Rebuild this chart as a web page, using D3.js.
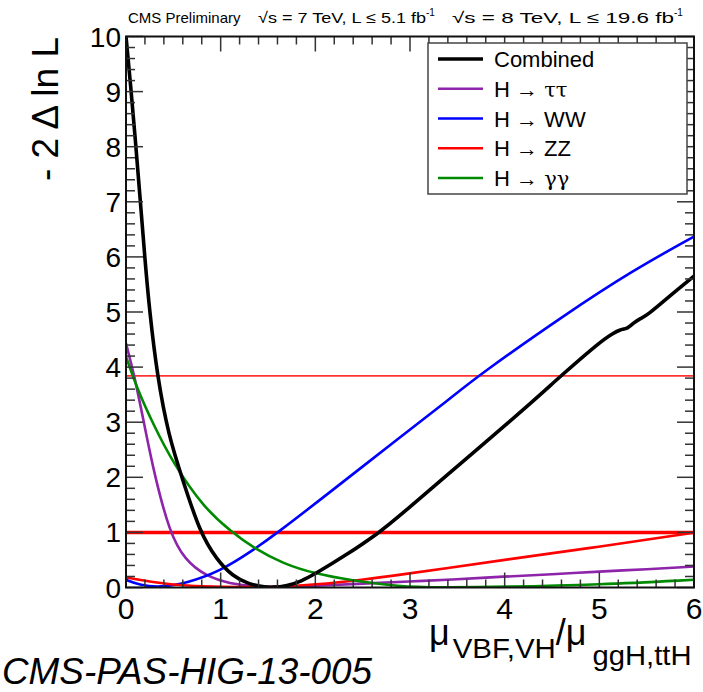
<!DOCTYPE html>
<html>
<head>
<meta charset="utf-8">
<style>
  body { margin: 0; background: #fff; }
  text { font-family: "Liberation Sans", Arial, sans-serif; }
</style>
</head>
<body>
<script src="https://cdn.jsdelivr.net/npm/d3@7/dist/d3.min.js"></script>
<script>
// values (x = muVBF,VH / muggH,ttH, y = -2 delta ln L)
var combX = [0, 0.05, 0.1, 0.15, 0.2, 0.25, 0.33, 0.45, 0.6, 0.78, 0.96, 1.13, 1.3, 1.45, 1.55, 1.7, 1.85, 2.01, 2.3, 2.68, 2.89, 3.42, 3.74, 4.3, 4.58, 5.0, 5.15, 5.22, 5.3, 5.36, 5.43, 5.5, 5.75, 6.0];
var combY = [10, 9.1, 8.1, 7.05, 5.95, 5.0, 3.84, 2.75, 1.95, 1.0, 0.5, 0.2, 0.06, 0.01, 0, 0.03, 0.11, 0.26, 0.56, 1.0, 1.3, 2.08, 2.55, 3.38, 3.82, 4.45, 4.62, 4.68, 4.70, 4.80, 4.88, 4.93, 5.3, 5.65];

var tautauX = [0, 0.09, 0.2, 0.3, 0.46, 0.62, 0.85, 1.1, 1.34, 1.55, 2.0, 2.5, 3.0, 3.42, 4.0, 4.5, 5.0, 5.5, 6.0];
var tautauY = [4.43, 3.84, 2.9, 2.05, 1.0, 0.5, 0.2, 0.07, 0.02, 0, 0.03, 0.07, 0.11, 0.14, 0.2, 0.24, 0.29, 0.33, 0.38];

var wwX = [0, 0.15, 0.36, 0.64, 0.99, 1.345, 1.59, 2.05, 2.89, 3.42, 3.70, 4.66, 5.36, 6.0];
var wwY = [0.14, 0.04, 0, 0.08, 0.29, 0.68, 0.98, 1.59, 2.72, 3.42, 3.82, 4.98, 5.76, 6.37];

var zzX = [0, 0.3, 0.64, 1.0, 1.5, 2.0, 2.54, 2.89, 3.42, 3.95, 5.0, 6.0];
var zzY = [0.185, 0.09, 0.03, 0.01, 0, 0.05, 0.15, 0.23, 0.36, 0.49, 0.74, 0.995];

var ggX = [0, 0.11, 0.29, 0.5, 0.82, 1.12, 1.345, 1.66, 2.01, 2.37, 2.89, 3.3, 4.0, 5.0, 6.0];
var ggY = [4.19, 3.64, 2.95, 2.25, 1.45, 1.0, 0.72, 0.43, 0.245, 0.13, 0.015, 0, 0.01, 0.05, 0.14];

var seriesNames = ["Combined", "H \u2192 \u03c4\u03c4", "H \u2192 WW", "H \u2192 ZZ", "H \u2192 \u03b3\u03b3"];
var seriesColors = ["#000000", "#8e24aa", "#0000ff", "#ff0000", "#008a00"];
var seriesX = [combX, tautauX, wwX, zzX, ggX];
var seriesY = [combY, tautauY, wwY, zzY, ggY];

var refLevels = [1, 3.84];
var xTicks = [0, 1, 2, 3, 4, 5, 6];
var yTicks = [0, 1, 2, 3, 4, 5, 6, 7, 8, 9, 10];

var W = 703, H = 692;
var plotL = 126, plotR = 694, plotT = 36.5, plotB = 587.5;

var svg = d3.select("body").append("svg")
    .attr("width", W)
    .attr("height", H);

var x = d3.scaleLinear().domain([0, 6]).range([plotL, plotR]);
var y = d3.scaleLinear().domain([0, 10]).range([plotB, plotT]);

var plot = svg.append("g");
plot.append("clipPath").attr("id", "clip")
    .append("rect").attr("x", plotL).attr("y", plotT - 2).attr("width", plotR - plotL).attr("height", plotB - plotT + 2);

// reference lines
plot.selectAll("line.ref").data(refLevels).join("line")
    .attr("class", "ref")
    .attr("x1", plotL).attr("x2", plotR)
    .attr("y1", function (d) { return y(d); })
    .attr("y2", function (d) { return y(d); })
    .attr("stroke", "#ff0000")
    .attr("stroke-opacity", function (d) { return d == 1 ? 1 : 0.8; })
    .attr("stroke-width", function (d) { return d == 1 ? 3.5 : 1.8; });

// curves
var line = d3.line()
    .x(function (d) { return x(d[0]); })
    .y(function (d) { return y(d[1]); })
    .curve(d3.curveBasis);

var order = [1, 2, 3, 4, 0];
order.forEach(function (i) {
    var pts = seriesX[i].map(function (v, k) { return [v, seriesY[i][k]]; });
    plot.append("path")
        .attr("d", line(pts))
        .attr("fill", "none")
        .attr("stroke", seriesColors[i])
        .attr("stroke-width", i == 0 ? 3.6 : 2.6)
        .attr("stroke-linejoin", "round")
        .attr("clip-path", "url(#clip)");
});

// ROOT style frame with inward ticks on all four sides
var tickCol = "#333";
var xMinor = d3.range(0, 6.001, 0.2);
var yMinor = d3.range(0, 10.001, 0.2);

function isMajor(v) { return Math.abs(v - Math.round(v)) < 1e-6; }

var axes = svg.append("g").attr("stroke", tickCol).attr("stroke-width", 1.5);
axes.selectAll("line.xb").data(xMinor).join("line").attr("class", "xb")
    .attr("x1", function (d) { return x(d); }).attr("x2", function (d) { return x(d); })
    .attr("y1", plotB).attr("y2", function (d) { return plotB - (isMajor(d) ? 15 : 8); });
axes.selectAll("line.xt").data(xMinor).join("line").attr("class", "xt")
    .attr("x1", function (d) { return x(d); }).attr("x2", function (d) { return x(d); })
    .attr("y1", plotT).attr("y2", function (d) { return plotT + (isMajor(d) ? 15 : 8); });
axes.selectAll("line.yle").data(yMinor).join("line").attr("class", "yle")
    .attr("y1", function (d) { return y(d); }).attr("y2", function (d) { return y(d); })
    .attr("x1", plotL).attr("x2", function (d) { return plotL + (isMajor(d) ? 17 : 9); });
axes.selectAll("line.yri").data(yMinor).join("line").attr("class", "yri")
    .attr("y1", function (d) { return y(d); }).attr("y2", function (d) { return y(d); })
    .attr("x1", plotR).attr("x2", function (d) { return plotR - (isMajor(d) ? 17 : 9); });

svg.append("rect")
    .attr("x", plotL).attr("y", plotT)
    .attr("width", plotR - plotL).attr("height", plotB - plotT)
    .attr("fill", "none").attr("stroke", "#111").attr("stroke-width", 2);

// tick labels
svg.selectAll("text.xl").data(xTicks).join("text").attr("class", "xl")
    .attr("x", function (d) { return x(d); })
    .attr("y", 619)
    .attr("text-anchor", "middle")
    .attr("font-size", 30)
    .text(function (d) { return d; });

svg.selectAll("text.yl").data(yTicks).join("text").attr("class", "yl")
    .attr("x", 121)
    .attr("y", function (d) { return y(d) + 10; })
    .attr("text-anchor", "end")
    .attr("font-size", 28)
    .text(function (d) { return d; });

// axis titles
svg.append("text")
    .attr("transform", "translate(58,37) rotate(-90)")
    .attr("text-anchor", "end")
    .attr("font-size", 37)
    .text("- 2 \u0394 ln L");

var xt = svg.append("text").attr("font-size", 36).attr("x", 429).attr("y", 645);
xt.append("tspan").text("\u03bc");
xt.append("tspan").attr("font-size", 28).attr("dx", 3).attr("dy", 13)
    .attr("textLength", 103).attr("lengthAdjust", "spacingAndGlyphs").text("VBF,VH");
xt.append("tspan").attr("dy", -13).text("/\u03bc");
xt.append("tspan").attr("font-size", 28).attr("dx", 6).attr("dy", 20)
    .attr("textLength", 99).attr("lengthAdjust", "spacingAndGlyphs").text("ggH,ttH");

// header
var hd = svg.append("g").attr("font-size", 15.5);
hd.append("text").attr("x", 128).attr("y", 23).attr("font-size", 15).text("CMS Preliminary");
var h1 = hd.append("text").attr("x", 258).attr("y", 23);
h1.append("tspan").attr("textLength", 168).attr("lengthAdjust", "spacingAndGlyphs").text("\u221as = 7 TeV, L \u2264 5.1 fb");
h1.append("tspan").attr("font-size", 10).attr("dy", -7).text("-1");
var h2 = hd.append("text").attr("x", 452).attr("y", 23);
h2.append("tspan").attr("textLength", 222).attr("lengthAdjust", "spacingAndGlyphs").text("\u221as = 8 TeV, L \u2264 19.6 fb");
h2.append("tspan").attr("font-size", 10).attr("dy", -7).text("-1");

// legend
var lg = svg.append("g");
lg.append("rect")
    .attr("x", 428).attr("y", 43).attr("width", 259).attr("height", 151)
    .attr("fill", "#fff").attr("stroke", "#444").attr("stroke-width", 1.5);
var ly = d3.scalePoint().domain(d3.range(seriesNames.length)).range([59, 178]);
lg.selectAll("line.lg").data(seriesNames).join("line").attr("class", "lg")
    .attr("x1", 438).attr("x2", 483)
    .attr("y1", function (d, i) { return ly(i); })
    .attr("y2", function (d, i) { return ly(i); })
    .attr("stroke", function (d, i) { return seriesColors[i]; })
    .attr("stroke-width", function (d, i) { return i == 0 ? 3.6 : 2.6; });
lg.selectAll("text.lg").data(seriesNames).join("text").attr("class", "lg")
    .attr("x", 494)
    .attr("y", function (d, i) { return ly(i) + 8; })
    .attr("font-size", 22)
    .each(function (d) {
        var t = d3.select(this);
        var m = d.match(/^(.*\u2192 )([\u03c4\u03b3]+)$/);
        if (m) {
            t.append("tspan").text(m[1]);
            t.append("tspan").attr("font-family", "'DejaVu Serif', serif").attr("font-size", 21).text(m[2]);
        } else {
            t.text(d);
        }
    });

// reference note
svg.append("text")
    .attr("x", 2).attr("y", 684)
    .attr("font-family", "Lato, 'Open Sans', sans-serif")
    .attr("font-style", "italic")
    .attr("font-size", 37)
    .attr("textLength", 370)
    .attr("lengthAdjust", "spacingAndGlyphs")
    .text("CMS-PAS-HIG-13-005");
</script>
</body>
</html>
